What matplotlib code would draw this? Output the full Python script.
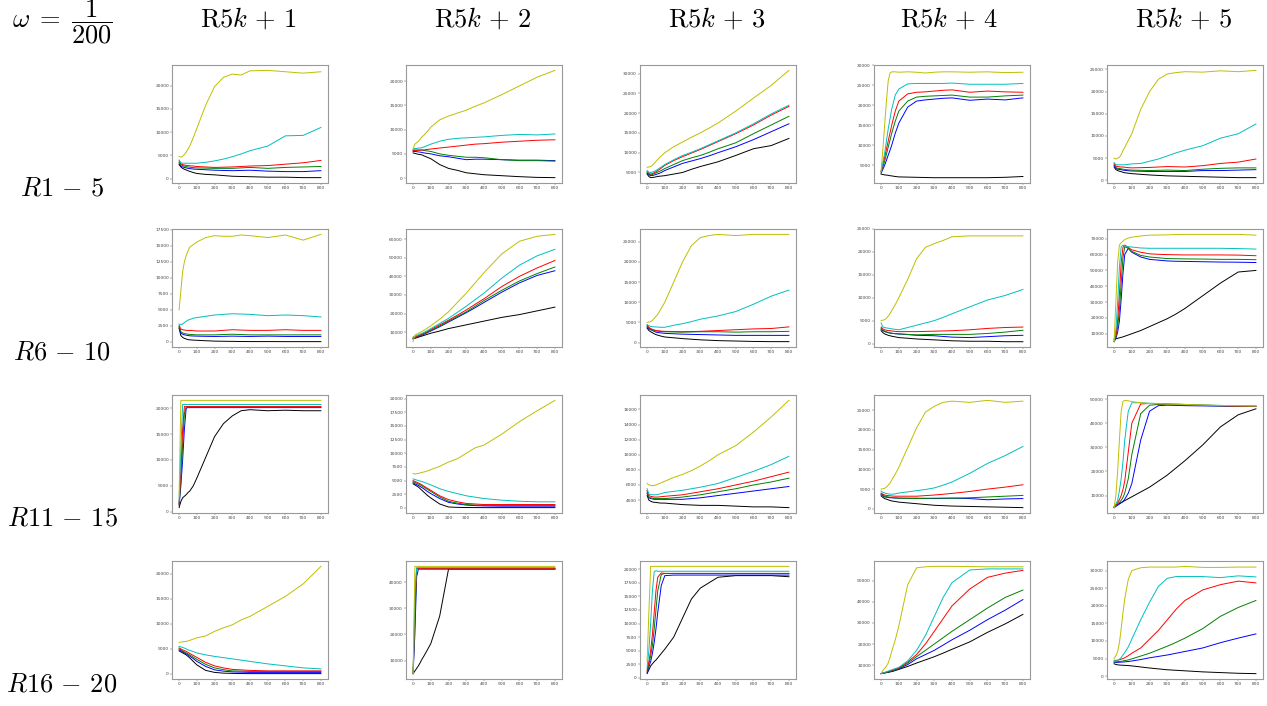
import matplotlib
matplotlib.use('Agg')
import matplotlib.pyplot as plt

plt.rcParams['mathtext.fontset'] = 'cm'

# common x samples (iteration)
X = [0, 10, 20, 30, 40, 50, 60, 80, 100, 150, 200, 250, 300, 350, 400, 500, 600, 700, 800]

col_titles = [r'$\mathrm{R}5k\,+\,1$', r'$\mathrm{R}5k\,+\,2$', r'$\mathrm{R}5k\,+\,3$',
              r'$\mathrm{R}5k\,+\,4$', r'$\mathrm{R}5k\,+\,5$']
row_titles = [r'$R1\,-\,5$', r'$R6\,-\,10$', r'$R11\,-\,15$', r'$R16\,-\,20$']
corner = r'$\omega\;=\;\dfrac{1}{200}$'
colors = ['k', 'b', 'g', 'r', 'c', 'y']

# each panel: series in order black, blue, green, red, cyan, yellow
p11 = [
    [3000, 2500, 2200, 2000, 1850, 1700, 1550, 1300, 1100, 900, 800, 650, 500, 450, 400, 300, 300, 200, 200],
    [3200, 2700, 2500, 2400, 2300, 2200, 2150, 2050, 2000, 1900, 1800, 1750, 1700, 1750, 1800, 1600, 1500, 1500, 1700],
    [3500, 3000, 2800, 2700, 2600, 2500, 2450, 2350, 2300, 2250, 2200, 2200, 2200, 2300, 2400, 2200, 2400, 2500, 2600],
    [3800, 3200, 3000, 2900, 2850, 2800, 2750, 2700, 2600, 2500, 2400, 2450, 2500, 2600, 2700, 2800, 3100, 3400, 3900],
    [4000, 3400, 3300, 3300, 3300, 3300, 3300, 3300, 3300, 3500, 3800, 4200, 4700, 5300, 6000, 7000, 9200, 9300, 11000],
    [4800, 4600, 4800, 5200, 5700, 6300, 7000, 8800, 10800, 15800, 19800, 21800, 22500, 22300, 23200, 23300, 23000, 22700, 23000],
]
p12 = [
    [5200, 5100, 5000, 4900, 4850, 4800, 4600, 4300, 4000, 2800, 2000, 1600, 1100, 900, 700, 500, 300, 150, 100],
    [5500, 5500, 5450, 5400, 5350, 5300, 5200, 5100, 5000, 4600, 4400, 4100, 3800, 3900, 3900, 3800, 3700, 3700, 3600],
    [5800, 5800, 5800, 5800, 5800, 5800, 5700, 5600, 5500, 5000, 4700, 4500, 4300, 4300, 4200, 3800, 3600, 3600, 3500],
    [5700, 5700, 5700, 5750, 5750, 5800, 5800, 5900, 6000, 6200, 6400, 6600, 6800, 7000, 7100, 7400, 7600, 7800, 7900],
    [6000, 6100, 6100, 6200, 6200, 6300, 6400, 6700, 7000, 7600, 8000, 8200, 8300, 8400, 8500, 8800, 9000, 8900, 9100],
    [6000, 7000, 7300, 7600, 8000, 8500, 8800, 9600, 10500, 12000, 12800, 13400, 14000, 14800, 15500, 17200, 19000, 20800, 22200],
]
p13 = [
    [4600, 4000, 3700, 3750, 3800, 3900, 4000, 4100, 4200, 4600, 5000, 5800, 6500, 7100, 7700, 9300, 11000, 11800, 13600],
    [4800, 4400, 4200, 4250, 4350, 4500, 4650, 5000, 5500, 6400, 7300, 7900, 8500, 9200, 10000, 11500, 13300, 15300, 17300],
    [5000, 4600, 4400, 4500, 4700, 4900, 5100, 5500, 6000, 7000, 8000, 8700, 9300, 10100, 11000, 12500, 14800, 17000, 19200],
    [5200, 4800, 4600, 4700, 4950, 5200, 5500, 6100, 6800, 8000, 9000, 9900, 10800, 11800, 12800, 14800, 17000, 19500, 21700],
    [5500, 5100, 5000, 5100, 5300, 5500, 5800, 6400, 7000, 8200, 9300, 10100, 11000, 12000, 13000, 15000, 17300, 19800, 22000],
    [6300, 6400, 6500, 6800, 7300, 7800, 8300, 9200, 10000, 11500, 12700, 13900, 15000, 16200, 17500, 20500, 23800, 27000, 30800],
]
p14 = [
    [2800, 2700, 2600, 2550, 2500, 2400, 2350, 2200, 2100, 2050, 2000, 1950, 1900, 1900, 1900, 1900, 1900, 2000, 2200],
    [3000, 4000, 5000, 6200, 7500, 8700, 10000, 13000, 15500, 19500, 21000, 21300, 21500, 21700, 21800, 21200, 21500, 21300, 21800],
    [3300, 4600, 6000, 7700, 9500, 11200, 13000, 16000, 18500, 21000, 22000, 22200, 22300, 22400, 22500, 22000, 22000, 22300, 22500],
    [3500, 5200, 7000, 9000, 11000, 13000, 15000, 18500, 21000, 22800, 23200, 23300, 23500, 23700, 23800, 23200, 23500, 23300, 23200],
    [3500, 5700, 8000, 11000, 14000, 16500, 19000, 22500, 24000, 25300, 25400, 25400, 25400, 25400, 25500, 25200, 25200, 25200, 25400],
    [3500, 9000, 15000, 21000, 26000, 28000, 28300, 28300, 28200, 28300, 28200, 28000, 28200, 28300, 28300, 28200, 28300, 28100, 28200],
]
p15 = [
    [3000, 2400, 2200, 2050, 1950, 1800, 1700, 1600, 1500, 1350, 1200, 1100, 1000, 950, 900, 800, 700, 600, 600],
    [3300, 2700, 2500, 2450, 2400, 2300, 2250, 2150, 2100, 2050, 2000, 2000, 2000, 2000, 2000, 2200, 2200, 2300, 2400],
    [3500, 2900, 2700, 2650, 2600, 2500, 2450, 2350, 2300, 2250, 2200, 2250, 2300, 2250, 2200, 2500, 2700, 2800, 2800],
    [3800, 3200, 3100, 3050, 3000, 3000, 2950, 2850, 2800, 2850, 2900, 3000, 3100, 3050, 3000, 3300, 3800, 4100, 4800],
    [4000, 3500, 3500, 3500, 3500, 3500, 3500, 3600, 3700, 3800, 4300, 4800, 5500, 6200, 6800, 7800, 9500, 10500, 12700],
    [5000, 4800, 5000, 5200, 5800, 6700, 7400, 9000, 10500, 16000, 20000, 22800, 24000, 24300, 24500, 24400, 24700, 24500, 24800],
]

p21 = [
    [2100, 1000, 700, 550, 450, 350, 320, 280, 250, 180, 120, 100, 80, 60, 50, 50, 40, 40, 40],
    [2300, 1400, 1200, 1100, 1050, 1000, 950, 920, 900, 870, 850, 870, 900, 870, 850, 900, 850, 850, 850],
    [2400, 1600, 1400, 1300, 1250, 1200, 1170, 1130, 1100, 1100, 1100, 1150, 1200, 1150, 1100, 1100, 1100, 1100, 1100],
    [2600, 2000, 1900, 1850, 1800, 1800, 1780, 1750, 1700, 1700, 1700, 1800, 1900, 1850, 1800, 1800, 1900, 1800, 1800],
    [2800, 2700, 2800, 3000, 3200, 3400, 3500, 3700, 3800, 4000, 4200, 4300, 4400, 4350, 4300, 4100, 4200, 4100, 3900],
    [5000, 8000, 11000, 12500, 13500, 14200, 14800, 15200, 15600, 16300, 16600, 16500, 16500, 16700, 16600, 16300, 16700, 15900, 16800],
]
p22 = [
    [6500, 6800, 7100, 7400, 7700, 8000, 8300, 8900, 9500, 10700, 12000, 13000, 14000, 15000, 16000, 18000, 19500, 21500, 23500],
    [6500, 6900, 7300, 7700, 8100, 8500, 8900, 9800, 10700, 13000, 15500, 18000, 20500, 23200, 26000, 31500, 36500, 40500, 43000],
    [6800, 7200, 7600, 8000, 8400, 8800, 9200, 10100, 11000, 13400, 16000, 18500, 21000, 24000, 27000, 32500, 37500, 41500, 45000],
    [7000, 7400, 7800, 8200, 8600, 9000, 9400, 10400, 11500, 14000, 16500, 19200, 22000, 25000, 28000, 34500, 40000, 44500, 48500],
    [7500, 7900, 8300, 8700, 9100, 9500, 9900, 10900, 12000, 14700, 17500, 20700, 24000, 27500, 31000, 39000, 46000, 51000, 54500],
    [5000, 8500, 9000, 9500, 10000, 10500, 11000, 12200, 13500, 17000, 21000, 26000, 31000, 36500, 42000, 52000, 58800, 61500, 62500],
]
p23 = [
    [3600, 3000, 2700, 2450, 2200, 2000, 1850, 1600, 1400, 1200, 1000, 850, 700, 600, 500, 400, 300, 250, 250],
    [3900, 3400, 3200, 3000, 2800, 2600, 2500, 2400, 2300, 2200, 2100, 2050, 2000, 1950, 1900, 1800, 1800, 1800, 1800],
    [4100, 3600, 3300, 3150, 3000, 2900, 2850, 2750, 2700, 2650, 2600, 2650, 2700, 2700, 2700, 2600, 2700, 2700, 2800],
    [4300, 3800, 3500, 3300, 3150, 3000, 2950, 2850, 2800, 2750, 2700, 2750, 2800, 2900, 3000, 3200, 3400, 3500, 3900],
    [4500, 4200, 4000, 3950, 3900, 3900, 3850, 3800, 3800, 4300, 4700, 5200, 5800, 6200, 6600, 7700, 9500, 11500, 13000],
    [5000, 5100, 5200, 5500, 6000, 6500, 7000, 8500, 10000, 15000, 20000, 24000, 26000, 26500, 26800, 26500, 26800, 26800, 26800],
]
p24 = [
    [2800, 2400, 2100, 1950, 1800, 1700, 1600, 1450, 1300, 1150, 1000, 900, 800, 700, 600, 500, 500, 400, 400],
    [3100, 2800, 2600, 2500, 2400, 2300, 2250, 2150, 2100, 1950, 1800, 1750, 1700, 1550, 1400, 1300, 1500, 1700, 1800],
    [3300, 2900, 2700, 2550, 2400, 2300, 2250, 2150, 2100, 2000, 1900, 1950, 2000, 2000, 2000, 2000, 2200, 2500, 2900],
    [3600, 3200, 3000, 2900, 2850, 2800, 2750, 2650, 2600, 2600, 2600, 2650, 2700, 2750, 2800, 3000, 3300, 3500, 3600],
    [4500, 3600, 3500, 3400, 3350, 3300, 3200, 3100, 3000, 3500, 4000, 4500, 5000, 5700, 6500, 8000, 9500, 10500, 11800],
    [5000, 5100, 5200, 5500, 6000, 6500, 7200, 8500, 10000, 14000, 18500, 21000, 21800, 22500, 23300, 23500, 23500, 23500, 23500],
]
p25 = [
    [6500, 6800, 7100, 7400, 7700, 8000, 8400, 9200, 10000, 12000, 14500, 17000, 19500, 22500, 26000, 34000, 42000, 49000, 50000],
    [5000, 7000, 11000, 18000, 32000, 48000, 60000, 64000, 61500, 58500, 57000, 56500, 56000, 55800, 55700, 55500, 55300, 55200, 55000],
    [5000, 8000, 14000, 25000, 42000, 58000, 65000, 64000, 62000, 59500, 58500, 58000, 57500, 57400, 57300, 57200, 57000, 57000, 56800],
    [5000, 9000, 18000, 35000, 55000, 64500, 66000, 64500, 63000, 61500, 60500, 60200, 60000, 59900, 59800, 59800, 59800, 59700, 59300],
    [5000, 12000, 30000, 52000, 65000, 66000, 65500, 65000, 64800, 64200, 64000, 64000, 64000, 64000, 64000, 64000, 64000, 63800, 63500],
    [5000, 30000, 55000, 66000, 67500, 68500, 69500, 70500, 71000, 71800, 72300, 72400, 72500, 72700, 72800, 72800, 72800, 72800, 72300],
]

p31 = [
    [800, 2000, 2700, 3000, 3300, 3700, 4000, 5000, 6500, 10500, 14500, 17000, 18500, 19500, 19700, 19500, 19600, 19500, 19500],
    [1200, 5000, 10000, 16000, 20000, 20100, 20100, 20100, 20100, 20100, 20100, 20100, 20100, 20100, 20100, 20100, 20100, 20100, 20100],
    [1500, 6000, 13000, 19000, 20200, 20200, 20200, 20200, 20200, 20200, 20200, 20200, 20200, 20200, 20200, 20200, 20200, 20200, 20200],
    [1500, 8000, 16000, 20300, 20300, 20300, 20300, 20300, 20300, 20300, 20300, 20300, 20300, 20300, 20300, 20300, 20300, 20300, 20300],
    [2000, 12000, 20700, 20700, 20700, 20700, 20700, 20700, 20700, 20700, 20700, 20700, 20700, 20700, 20700, 20700, 20700, 20700, 20700],
    [3000, 21500, 21500, 21500, 21500, 21500, 21500, 21500, 21500, 21500, 21500, 21500, 21500, 21500, 21500, 21500, 21500, 21500, 21500],
]
p32 = [
    [4400, 4200, 4000, 3800, 3500, 3200, 2900, 2300, 1800, 700, 150, 80, 50, 40, 30, 30, 30, 30, 30],
    [4600, 4400, 4250, 4100, 3900, 3700, 3500, 3000, 2600, 1700, 1000, 700, 500, 400, 350, 300, 300, 300, 300],
    [4800, 4650, 4500, 4350, 4200, 4000, 3800, 3400, 3000, 2000, 1200, 850, 600, 500, 450, 450, 450, 450, 450],
    [5000, 4850, 4700, 4550, 4400, 4200, 4000, 3600, 3200, 2200, 1500, 1100, 800, 700, 600, 600, 600, 600, 600],
    [5300, 5200, 5100, 5000, 4900, 4800, 4700, 4450, 4200, 3500, 3000, 2600, 2200, 1950, 1700, 1400, 1200, 1100, 1100],
    [6300, 6200, 6250, 6300, 6400, 6500, 6550, 6750, 7000, 7600, 8400, 9000, 10000, 11000, 11500, 13500, 15800, 17800, 19700],
]
p33 = [
    [4600, 4000, 3850, 3750, 3700, 3700, 3650, 3600, 3600, 3500, 3400, 3350, 3300, 3300, 3300, 3200, 3100, 3100, 3000],
    [4900, 4300, 4200, 4150, 4100, 4100, 4100, 4100, 4100, 4100, 4100, 4200, 4300, 4450, 4600, 4900, 5200, 5500, 5800],
    [5100, 4400, 4300, 4250, 4200, 4200, 4200, 4200, 4200, 4300, 4400, 4550, 4700, 4900, 5100, 5500, 6000, 6400, 6900],
    [5300, 4600, 4500, 4450, 4400, 4400, 4400, 4450, 4500, 4600, 4700, 4900, 5100, 5300, 5500, 6000, 6500, 7100, 7700],
    [5500, 4800, 4750, 4700, 4700, 4700, 4750, 4850, 5000, 5150, 5300, 5500, 5700, 5950, 6200, 7000, 7800, 8700, 9800],
    [6200, 6000, 5950, 5900, 5950, 6000, 6100, 6300, 6500, 7000, 7400, 7900, 8500, 9200, 10000, 11200, 13000, 15000, 17200],
]
p34 = [
    [3300, 2900, 2600, 2450, 2300, 2100, 2000, 1850, 1700, 1500, 1300, 1100, 900, 800, 700, 600, 500, 400, 300],
    [3600, 3300, 3000, 2950, 2900, 2800, 2800, 2750, 2700, 2700, 2700, 2650, 2600, 2650, 2700, 2600, 2300, 2500, 2600],
    [3800, 3500, 3200, 3100, 3000, 2900, 2850, 2750, 2700, 2650, 2600, 2650, 2700, 2700, 2700, 2800, 3000, 3200, 3400],
    [4000, 3700, 3500, 3400, 3350, 3300, 3250, 3200, 3200, 3200, 3200, 3350, 3500, 3700, 3900, 4400, 5000, 5500, 6100],
    [4500, 4200, 4000, 3900, 3800, 3700, 3700, 3800, 4000, 4300, 4600, 4900, 5300, 6000, 6800, 9000, 11500, 13500, 15800],
    [5000, 5100, 5200, 5500, 6000, 6500, 7300, 8800, 10500, 15500, 20500, 24500, 26000, 27000, 27300, 27000, 27500, 27000, 27300],
]
p35 = [
    [5500, 5900, 6300, 6700, 7100, 7500, 7900, 8700, 9500, 11500, 13500, 16000, 18500, 21500, 24500, 31000, 38500, 43500, 46000],
    [5000, 5500, 6000, 6500, 7000, 7500, 8500, 11000, 15000, 33000, 45000, 47300, 47500, 47400, 47300, 47200, 47100, 47000, 47000],
    [5000, 5700, 6500, 7200, 8000, 9200, 11000, 17000, 27000, 44000, 47500, 47800, 47800, 47700, 47600, 47400, 47200, 47100, 47000],
    [5000, 6000, 7000, 8300, 10000, 12500, 16000, 28000, 40000, 48000, 48200, 48100, 48000, 47900, 47800, 47500, 47300, 47100, 47000],
    [5000, 6500, 8000, 12000, 17000, 24000, 33000, 45000, 48500, 48500, 48300, 48200, 48000, 47900, 47800, 47600, 47400, 47300, 47200],
    [5000, 10000, 20000, 33000, 45000, 49000, 49500, 49300, 49000, 48500, 48200, 48100, 48000, 47900, 47800, 47600, 47400, 47300, 47200],
]

p41 = [
    [4600, 4400, 4200, 4000, 3800, 3500, 3200, 2500, 1800, 700, 300, 150, 100, 70, 50, 50, 50, 50, 50],
    [4800, 4600, 4400, 4200, 4000, 3800, 3550, 3050, 2500, 1500, 800, 550, 400, 350, 300, 300, 300, 300, 300],
    [5000, 4800, 4600, 4400, 4200, 4000, 3800, 3350, 2900, 1900, 1200, 850, 600, 550, 500, 500, 500, 500, 500],
    [5200, 5000, 4800, 4650, 4500, 4300, 4100, 3700, 3300, 2300, 1600, 1200, 900, 800, 700, 600, 600, 600, 600],
    [5500, 5400, 5300, 5150, 5000, 4800, 4700, 4450, 4200, 3800, 3500, 3250, 3000, 2750, 2500, 2000, 1600, 1200, 1000],
    [6300, 6350, 6400, 6450, 6500, 6600, 6700, 6950, 7200, 7600, 8500, 9200, 9800, 10800, 11500, 13500, 15500, 18000, 21500],
]
p42 = [
    [5000, 6000, 7000, 8000, 9200, 10500, 11600, 14000, 16500, 27000, 45000, 45000, 45000, 45000, 45000, 45000, 45000, 45000, 45000],
    [5000, 20000, 42000, 45000, 45000, 45000, 45000, 45000, 45000, 45000, 45000, 45000, 45000, 45000, 45000, 45000, 45000, 45000, 45000],
    [5000, 25000, 45000, 45000, 45000, 45000, 45000, 45000, 45000, 45000, 45000, 45000, 45000, 45000, 45000, 45000, 45000, 45000, 45000],
    [5000, 30000, 45200, 45200, 45200, 45200, 45200, 45200, 45200, 45200, 45200, 45200, 45200, 45200, 45200, 45200, 45200, 45200, 45200],
    [5000, 35000, 45500, 45500, 45500, 45500, 45500, 45500, 45500, 45500, 45500, 45500, 45500, 45500, 45500, 45500, 45500, 45500, 45500],
    [5000, 46000, 46000, 46000, 46000, 46000, 46000, 46000, 46000, 46000, 46000, 46000, 46000, 46000, 46000, 46000, 46000, 46000, 46000],
]
p43 = [
    [800, 1500, 2200, 2600, 3000, 3300, 3700, 4500, 5300, 7500, 11000, 14500, 16500, 17500, 18500, 18800, 18800, 18800, 18600],
    [1000, 2000, 3000, 4500, 6500, 9000, 12000, 17000, 18800, 18900, 18900, 18900, 18900, 18900, 18900, 18900, 18900, 18900, 18900],
    [1200, 2500, 4000, 6000, 9000, 12500, 16000, 19000, 19200, 19200, 19200, 19200, 19200, 19200, 19200, 19200, 19200, 19200, 19200],
    [1500, 3000, 5000, 8000, 12000, 16000, 18500, 19300, 19200, 19200, 19200, 19200, 19200, 19200, 19200, 19200, 19200, 19200, 19200],
    [2000, 5000, 10000, 16000, 19500, 19700, 19600, 19600, 19600, 19600, 19600, 19600, 19600, 19600, 19600, 19600, 19600, 19600, 19600],
    [3000, 12000, 20500, 20500, 20500, 20500, 20500, 20500, 20500, 20500, 20500, 20500, 20500, 20500, 20500, 20500, 20500, 20500, 20500],
]
p44 = [
    [6000, 6150, 6300, 6450, 6600, 6800, 6950, 7450, 8000, 9400, 11000, 12500, 14000, 15700, 17500, 21000, 25500, 29500, 34000],
    [6000, 6200, 6400, 6600, 6800, 7000, 7200, 7700, 8200, 10300, 13000, 15000, 17000, 19500, 22000, 26500, 31500, 36000, 41000],
    [6000, 6200, 6400, 6600, 6800, 7100, 7300, 7850, 8400, 11000, 14000, 17000, 20000, 23000, 26000, 31500, 37000, 42000, 45500],
    [6000, 6250, 6500, 6750, 7000, 7300, 7550, 8100, 8700, 11500, 15000, 20000, 26000, 32000, 38000, 46000, 51500, 53500, 54800],
    [6000, 6300, 6600, 6900, 7200, 7500, 7800, 8400, 9000, 12000, 17000, 24000, 33000, 42000, 49000, 55000, 55500, 55500, 55500],
    [6000, 7500, 8500, 9500, 11000, 13500, 16500, 22000, 28500, 48000, 56000, 56500, 56700, 56700, 56700, 56600, 56500, 56500, 56500],
]
p45 = [
    [3500, 3300, 3200, 3150, 3100, 3100, 3050, 3000, 2900, 2600, 2300, 2050, 1800, 1650, 1500, 1200, 1000, 800, 700],
    [3800, 3850, 3900, 3950, 3980, 4000, 4050, 4150, 4300, 4700, 5200, 5600, 6000, 6500, 7000, 8000, 9500, 10800, 12000],
    [4000, 4050, 4100, 4150, 4200, 4300, 4400, 4600, 4900, 5700, 6500, 7500, 8500, 9600, 10800, 13500, 17000, 19500, 21500],
    [4300, 4400, 4500, 4650, 4800, 5000, 5200, 5800, 6500, 8000, 10500, 13000, 16000, 19000, 21500, 24500, 26000, 27000, 26500],
    [4500, 4500, 4500, 4800, 5300, 6000, 6700, 8300, 10500, 16000, 21000, 25500, 27800, 28300, 28300, 28300, 28000, 28500, 28200],
    [5000, 5800, 7000, 9500, 13500, 18000, 22000, 27500, 30000, 30800, 31000, 31000, 31000, 31000, 31200, 30900, 30900, 31000, 31000],
]

panels = [[p11, p12, p13, p14, p15],
          [p21, p22, p23, p24, p25],
          [p31, p32, p33, p34, p35],
          [p41, p42, p43, p44, p45]]

yticks = [
    [[0, 5000, 10000, 15000, 20000], [0, 5000, 10000, 15000, 20000],
     [5000, 10000, 15000, 20000, 25000, 30000], [5000, 10000, 15000, 20000, 25000, 30000],
     [0, 5000, 10000, 15000, 20000, 25000]],
    [[0, 2500, 5000, 7500, 10000, 12500, 15000, 17500], [10000, 20000, 30000, 40000, 50000, 60000],
     [0, 5000, 10000, 15000, 20000, 25000], [0, 5000, 10000, 15000, 20000, 25000],
     [10000, 20000, 30000, 40000, 50000, 60000, 70000]],
    [[0, 5000, 10000, 15000, 20000], [0, 2500, 5000, 7500, 10000, 12500, 15000, 17500, 20000],
     [4000, 6000, 8000, 10000, 12000, 14000, 16000], [0, 5000, 10000, 15000, 20000, 25000],
     [10000, 20000, 30000, 40000, 50000]],
    [[0, 5000, 10000, 15000, 20000], [10000, 20000, 30000, 40000],
     [0, 2500, 5000, 7500, 10000, 12500, 15000, 17500, 20000], [10000, 20000, 30000, 40000, 50000],
     [0, 5000, 10000, 15000, 20000, 25000, 30000]],
]

W, H = 1267, 706
fig = plt.figure(figsize=(W / 100, H / 100), dpi=100)

lefts = [172, 406, 640, 874, 1107]
tops = [65, 229, 395, 561]
aw, ah = 156, 118

for i in range(4):
    for j in range(5):
        ax = fig.add_axes([lefts[j] / W, 1 - (tops[i] + ah) / H, aw / W, ah / H])
        for s, c in zip(panels[i][j], colors):
            ax.plot(X, s, color=c, lw=0.7)
        ax.set_xticks(range(0, 801, 100))
        ax.set_yticks(yticks[i][j])
        ax.tick_params(labelsize=3.2, length=1.2, width=0.3, pad=1, colors='#444444')
        for sp in ax.spines.values():
            sp.set_color('#999999')
            sp.set_linewidth(0.8)

col_x = [248, 483, 717, 949, 1184]
for j, t in enumerate(col_titles):
    fig.text(col_x[j] / W, 1 - 20 / H, t, fontsize=19, ha='center', va='center')

row_y = [188, 353, 519, 685]
for i, t in enumerate(row_titles):
    fig.text(62 / W, 1 - row_y[i] / H, t, fontsize=19, ha='center', va='center')

fig.text(12 / W, 1 - 28 / H, corner, fontsize=19, ha='left', va='baseline')

fig.savefig('out.png', dpi=100)
